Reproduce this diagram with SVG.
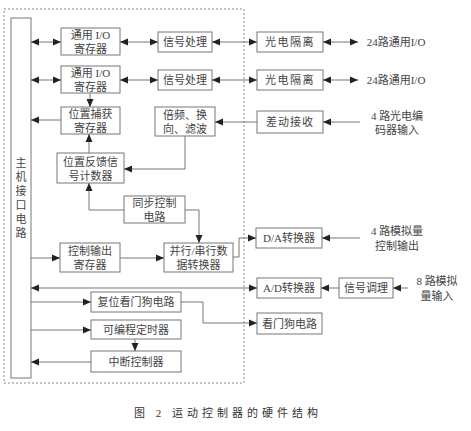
<svg xmlns="http://www.w3.org/2000/svg" width="471" height="431" viewBox="0 0 471 431">
<style>
.b{fill:#fff;stroke:#777;stroke-width:1}
.c{fill:none;stroke:#777;stroke-width:1}
text{font-family:"Liberation Serif","Noto Sans CJK SC",serif;font-size:11px;fill:#444;text-anchor:middle;dominant-baseline:central}
.cap{font-size:11px;letter-spacing:4px;fill:#333}
</style>
<defs>
<marker id="a" viewBox="0 0 8 8" refX="8" refY="4" markerWidth="8" markerHeight="8" markerUnits="userSpaceOnUse" orient="auto-start-reverse"><path d="M0,0.5 L8,4 L0,7.5 z" fill="#222"/></marker>
</defs>
<rect x="4" y="9" width="240" height="374" fill="none" stroke="#888" stroke-dasharray="2,2"/>
<g id="bus"><rect class="b" x="11" y="18" width="20" height="360"/>
<text x="21" y="163">主</text><text x="21" y="177">机</text><text x="21" y="191">接</text><text x="21" y="205">口</text><text x="21" y="219">电</text><text x="21" y="233">路</text></g>
<g id="io1"><rect class="b" x="61" y="28" width="59" height="27"/><text x="90.5" y="35">通用 I/O</text><text x="90.5" y="49">寄存器</text></g>
<g id="io2"><rect class="b" x="61" y="66" width="59" height="27"/><text x="90.5" y="73">通用 I/O</text><text x="90.5" y="87">寄存器</text></g>
<g id="sp1"><rect class="b" x="158" y="32" width="54" height="20"/><text x="185" y="42">信号处理</text></g>
<g id="sp2"><rect class="b" x="158" y="70" width="54" height="20"/><text x="185" y="80">信号处理</text></g>
<g id="iso1"><rect class="b" x="257" y="32" width="66" height="20"/><text x="290" y="42" letter-spacing="1.5">光电隔离</text></g>
<g id="iso2"><rect class="b" x="257" y="70" width="66" height="20"/><text x="290" y="80" letter-spacing="1.5">光电隔离</text></g>
<g id="t24a"><text x="396" y="42" font-size="10">24路通用I/O</text></g>
<g id="t24b"><text x="396" y="80" font-size="10">24路通用I/O</text></g>
<g id="cap1"><rect class="b" x="61" y="107" width="59" height="27"/><text x="90.5" y="114">位置捕获</text><text x="90.5" y="128">寄存器</text></g>
<g id="mul"><rect class="b" x="155" y="107" width="60" height="29"/><text x="185" y="115">倍频、换</text><text x="185" y="129">向、滤波</text></g>
<g id="diff"><rect class="b" x="257" y="111" width="66" height="22"/><text x="290" y="122" letter-spacing="1">差动接收</text></g>
<g id="tenc"><text x="397" y="116">4 路光电编</text><text x="397" y="130">码器输入</text></g>
<g id="fb"><rect class="b" x="57" y="153" width="67" height="30"/><text x="90.5" y="162">位置反馈信</text><text x="90.5" y="176">号计数器</text></g>
<g id="sync"><rect class="b" x="124" y="196" width="61" height="27"/><text x="154.5" y="203">同步控制</text><text x="154.5" y="217">电路</text></g>
<g id="cout"><rect class="b" x="60" y="243" width="60" height="29"/><text x="90" y="251">控制输出</text><text x="90" y="265">寄存器</text></g>
<g id="ps"><rect class="b" x="164" y="243" width="69" height="29"/><text x="198.5" y="251">并行/串行数</text><text x="198.5" y="265">据转换器</text></g>
<g id="da"><rect class="b" x="256" y="228" width="66" height="20"/><text x="289" y="238">D/A转换器</text></g>
<g id="tda"><text x="397" y="231">4 路模拟量</text><text x="397" y="246">控制输出</text></g>
<g id="ad"><rect class="b" x="257" y="278" width="64" height="20"/><text x="289" y="288">A/D转换器</text></g>
<g id="cond"><rect class="b" x="339" y="278" width="54" height="20"/><text x="366" y="288">信号调理</text></g>
<g id="tad"><text x="437" y="281">8 路模拟</text><text x="437" y="296">量输入</text></g>
<g id="wdr"><rect class="b" x="91" y="292" width="90" height="20"/><text x="136" y="302">复位看门狗电路</text></g>
<g id="wd"><rect class="b" x="257" y="313" width="65" height="21"/><text x="289.5" y="323.5">看门狗电路</text></g>
<g id="tmr"><rect class="b" x="91" y="320" width="90" height="19"/><text x="136" y="329.5">可编程定时器</text></g>
<g id="irq"><rect class="b" x="91" y="351" width="90" height="21"/><text x="136" y="361.5">中断控制器</text></g>
<g id="connectors" class="c">
<path class="c" d="M31,42 H61" marker-start="url(#a)" marker-end="url(#a)"/>
<path class="c" d="M120,42 H158" marker-start="url(#a)" marker-end="url(#a)"/>
<path class="c" d="M212,42 H257" marker-start="url(#a)" marker-end="url(#a)"/>
<path class="c" d="M323,42 H358" marker-start="url(#a)" marker-end="url(#a)"/>
<path class="c" d="M31,80 H61" marker-start="url(#a)" marker-end="url(#a)"/>
<path class="c" d="M120,80 H158" marker-start="url(#a)" marker-end="url(#a)"/>
<path class="c" d="M212,80 H257" marker-start="url(#a)" marker-end="url(#a)"/>
<path class="c" d="M323,80 H358" marker-start="url(#a)" marker-end="url(#a)"/>
<path class="c" d="M90,93 V107" marker-end="url(#a)"/>
<path class="c" d="M61,120 H31" marker-end="url(#a)"/>
<path class="c" d="M89,153 V134" marker-end="url(#a)"/>
<path class="c" d="M257,122 H215" marker-end="url(#a)" stroke="#555" stroke-width="1.5"/>
<path class="c" d="M360,122 H323" marker-end="url(#a)"/>
<path class="c" d="M185,136 V169 H124" marker-end="url(#a)"/>
<path class="c" d="M124,210 H89 V183" marker-end="url(#a)"/>
<path class="c" d="M185,210 H199 V243" marker-end="url(#a)"/>
<path class="c" d="M31,258 H60" marker-end="url(#a)"/>
<path class="c" d="M120,258 H164" marker-end="url(#a)"/>
<path class="c" d="M233,257 H239 V238 H256" marker-end="url(#a)"/>
<path class="c" d="M360,238 H322" marker-end="url(#a)"/>
<path class="c" d="M31,288 H257" marker-start="url(#a)" marker-end="url(#a)"/>
<path class="c" d="M339,288 H321" marker-end="url(#a)"/>
<path class="c" d="M408,288 H393" marker-end="url(#a)"/>
<path class="c" d="M31,302 H91" marker-end="url(#a)"/>
<path class="c" d="M181,302 H203 V323 H257" marker-end="url(#a)"/>
<path class="c" d="M31,330 H91" marker-end="url(#a)"/>
<path class="c" d="M135,339 V351" marker-end="url(#a)"/>
<path class="c" d="M91,362 H31" marker-end="url(#a)"/>
</g>
<text class="cap" x="228" y="413">图 2 运动控制器的硬件结构</text>
</svg>
